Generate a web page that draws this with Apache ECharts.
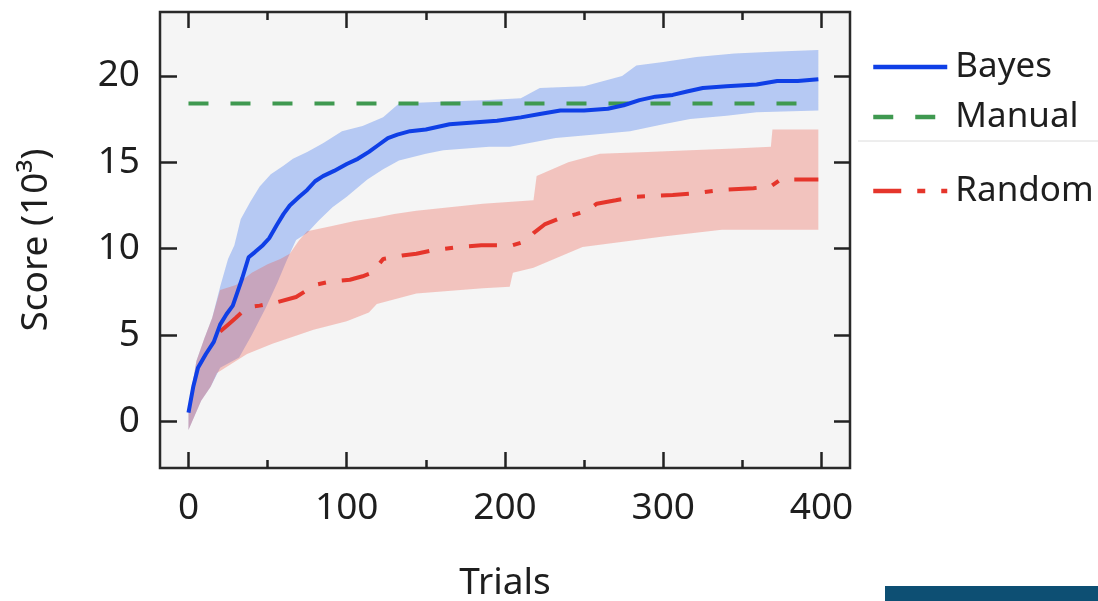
<!DOCTYPE html>
<html><head><meta charset="utf-8">
<script src="https://cdn.jsdelivr.net/npm/echarts@6/dist/echarts.min.js"></script>
<style>html,body{margin:0;padding:0;background:#fff}#c{width:1098px;height:601px}</style>
</head><body><div id="c"></div>
<script>
// ---- data ----
const xTicks = [0, 100, 200, 300, 400];
const xMinorTicks = [50, 150, 250, 350];
const yTicks = [0, 5, 10, 15, 20];

const bayesT = [0,3,6,11,16,20,24,28,31,34,38,42,47,51,56,60,64,70,75,80,85,92,100,107,114,120,126,132,140,150,165,180,195,210,222,235,250,265,275,285,295,306,315,325,340,359,372,385,398];
const bayesV = [0.5,2.0,3.1,3.9,4.6,5.6,6.2,6.7,7.5,8.3,9.5,9.8,10.2,10.6,11.4,12.0,12.5,13.0,13.4,13.9,14.2,14.5,14.9,15.2,15.6,16.0,16.4,16.6,16.8,16.9,17.2,17.3,17.4,17.6,17.8,18.0,18.0,18.1,18.3,18.6,18.8,18.9,19.1,19.3,19.4,19.5,19.7,19.7,19.8];
const bayesUpperT = [0,5,10,15,20,25,29,33,39,45,52,60,66,75,85,97,110,123,133,160,190,210,222,250,274,283,300,321,345,369,398];
const bayesUpper = [0.8,3.5,4.8,6.0,7.8,9.4,10.2,11.7,12.7,13.6,14.3,14.8,15.2,15.6,16.1,16.8,17.1,17.6,18.4,18.5,18.6,18.7,19.3,19.4,20.0,20.6,20.8,21.1,21.3,21.4,21.5];
const bayesLowerT = [0,8,14,20,32,40,49,56,62,68,75,82,91,100,113,123,133,150,161,190,203,232,255,279,300,317,340,359,398];
const bayesLower = [-0.5,1.2,2.0,3.1,3.7,5.0,6.6,8.0,9.3,10.5,10.9,11.6,12.4,13.0,14.0,14.6,15.1,15.5,15.7,15.9,15.9,16.4,16.6,16.8,17.2,17.5,17.7,17.9,18.0];

const manualT = [0, 398];
const manualV = [18.4, 18.4];

const randomT = [20,25,30,37,45,56,68,75,80,90,102,110,116,123,135,144,154,171,185,205,212,218,225,233,245,252,258,270,281,306,320,337,357,368,374,398];
const randomV = [5.2,5.6,6.0,6.6,6.7,6.9,7.2,7.6,7.9,8.1,8.2,8.4,8.6,9.4,9.6,9.7,9.9,10.1,10.2,10.2,10.4,10.9,11.4,11.7,12.0,12.2,12.6,12.8,13.0,13.1,13.2,13.4,13.5,13.6,14.0,14.0];
const randomUpperT = [0,5,10,15,20,30,40,50,58,64,70,75,90,105,119,130,144,165,186,218,220,240,260,290,317,345,368,369,398];
const randomUpper = [0.8,3.5,4.8,6.0,7.6,7.9,8.6,9.1,9.4,9.7,10.5,11.0,11.3,11.6,11.8,12.0,12.2,12.4,12.6,12.8,14.2,15.0,15.5,15.6,15.7,15.8,15.9,16.9,16.9];
const randomLowerT = [0,8,14,18,30,37,53,79,100,114,119,144,186,203,205,218,249,300,337,398];
const randomLower = [-0.5,1.2,2.0,2.8,3.5,3.9,4.5,5.3,5.8,6.3,6.8,7.4,7.7,7.8,8.6,8.9,10.1,10.7,11.1,11.1];

// ---- chart ----
const FONT = '"Noto Sans", "Open Sans", sans-serif';
const TXT = '#1e1e1e';
const X_MIN = -18, X_MAX = 418, Y_MIN = -2.7, Y_MAX = 23.7;
const zip = (a, b) => a.map((t, i) => [t, b[i]]);

function band(name, upT, upV, loT, loV, color, z) {
  return {
    type: 'custom', name: name, z: z, silent: true,
    xAxisIndex: 0, yAxisIndex: 0,
    data: zip(upT, upV),
    encode: { x: 0, y: 1 },
    renderItem: function (params, api) {
      if (params.dataIndex !== 0) return null;
      const pts = [];
      for (let i = 0; i < upT.length; i++) pts.push(api.coord([upT[i], upV[i]]));
      for (let i = loT.length - 1; i >= 0; i--) pts.push(api.coord([loT[i], loV[i]]));
      return { type: 'polygon', shape: { points: pts }, style: { fill: color } };
    }
  };
}

function xAx(pos, ticks, len, labels) {
  return {
    type: 'value', min: X_MIN, max: X_MAX, position: pos, gridIndex: 0,
    axisLine: { show: false, onZero: false },
    splitLine: { show: false },
    axisTick: { show: true, inside: true, length: len, customValues: ticks, lineStyle: { color: '#222', width: 2.5 } },
    axisLabel: labels ? { show: true, customValues: ticks, margin: 22, fontSize: 37, color: TXT, fontFamily: FONT } : { show: false }
  };
}

function leg(name, top) {
  return {
    data: [name], left: 866, top: top, orient: 'vertical', itemWidth: 74, itemHeight: 16, selectedMode: false,
    itemStyle: { opacity: 0 }, lineStyle: { width: 4.5, opacity: 1 },
    textStyle: { fontSize: 35, lineHeight: 44, color: TXT, fontFamily: FONT, padding: [0, 0, 0, 3] }
  };
}

const chart = echarts.init(document.getElementById('c'));
chart.setOption({
  animation: false,
  backgroundColor: '#ffffff',
  grid: { left: 160, right: 248, top: 12, bottom: 133, show: true, backgroundColor: '#f5f5f5', borderColor: '#2a2a2a', borderWidth: 2.5, containLabel: false, outerBoundsMode: 'none' },
  xAxis: [
    Object.assign(xAx('bottom', xTicks, 16, true), {
      name: 'Trials', nameLocation: 'middle', nameGap: 97,
      nameTextStyle: { fontSize: 37, color: TXT, fontFamily: FONT }
    }),
    xAx('bottom', xMinorTicks, 8, false),
    xAx('top', xTicks, 16, false),
    xAx('top', xMinorTicks, 8, false)
  ],
  yAxis: [
    {
      type: 'value', min: Y_MIN, max: Y_MAX, position: 'left',
      axisLine: { show: false, onZero: false }, splitLine: { show: false },
      axisTick: { show: true, inside: true, length: 17, customValues: yTicks, lineStyle: { color: '#222', width: 2.5 } },
      axisLabel: { customValues: yTicks, margin: 20, fontSize: 37, color: TXT, fontFamily: FONT },
      name: 'Score (10³)', nameLocation: 'middle', nameRotate: 90, nameGap: 105,
      nameTextStyle: { fontSize: 37, color: TXT, fontFamily: FONT }
    },
    {
      type: 'value', min: Y_MIN, max: Y_MAX, position: 'right',
      axisLine: { show: false, onZero: false }, splitLine: { show: false },
      axisTick: { show: true, inside: true, length: 16, customValues: yTicks, lineStyle: { color: '#222', width: 2.5 } },
      axisLabel: { show: false }
    }
  ],
  legend: [ leg('Bayes', 40), leg('Manual', 90), leg('Random', 164) ],
  graphic: [
    { type: 'line', shape: { x1: 858, y1: 141, x2: 1098, y2: 141 }, style: { stroke: '#dcdcdc', lineWidth: 1 } },
    { type: 'rect', shape: { x: 885, y: 586, width: 213, height: 15 }, style: { fill: '#0d4f73' } }
  ],
  series: [
    band('Bayes band', bayesUpperT, bayesUpper, bayesLowerT, bayesLower, 'rgba(80,130,240,0.38)', 1),
    band('Random band', randomUpperT, randomUpper, randomLowerT, randomLower, 'rgba(235,90,75,0.32)', 2),
    { type: 'line', name: 'Manual', data: zip(manualT, manualV), symbol: 'none', z: 3,
      lineStyle: { color: '#3f9950', width: 4, type: [20, 22] }, itemStyle: { color: '#3f9950' } },
    { type: 'line', name: 'Random', data: zip(randomT, randomV), symbol: 'none', z: 4,
      lineStyle: { color: '#e5352b', width: 4, type: [28, 16, 8, 16] }, itemStyle: { color: '#e5352b' } },
    { type: 'line', name: 'Bayes', data: zip(bayesT, bayesV), symbol: 'none', z: 5,
      lineStyle: { color: '#0f3fe6', width: 4 }, itemStyle: { color: '#0f3fe6' } }
  ]
});
</script>
</body></html>
